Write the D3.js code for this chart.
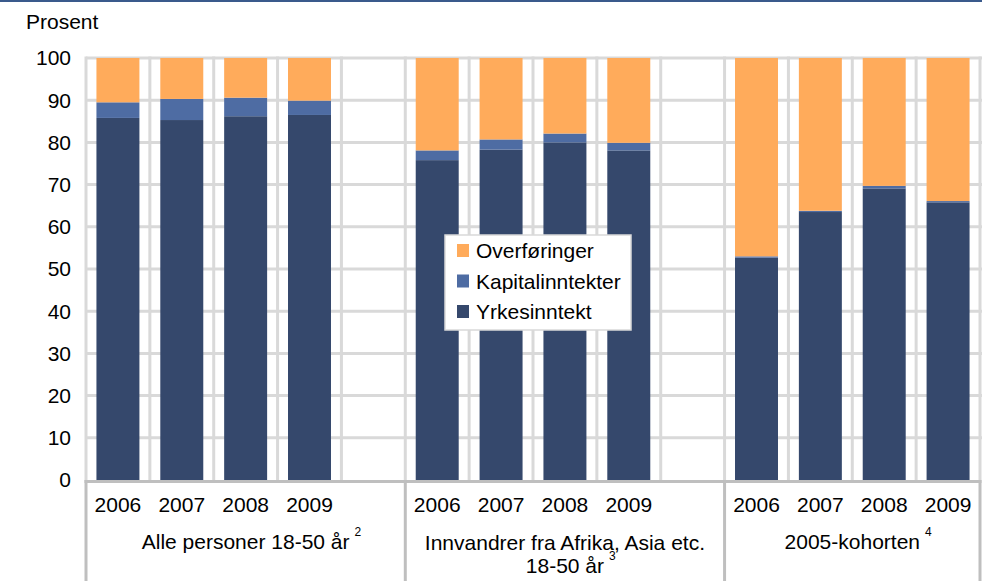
<!DOCTYPE html>
<html>
<head>
<meta charset="utf-8">
<script src="https://cdn.jsdelivr.net/npm/d3@7"></script>
<style>
  body { margin: 0; background: #fff; }
  svg { display: block; font-family: Arial, "Liberation Sans", sans-serif; }
</style>
</head>
<body>
<svg width="982" height="581"></svg>
<script>
// data
var years = ["2006", "2007", "2008", "2009"];
var groups = [
    { lines: ["Alle personer 18-50 år"], sup: "2" },
    { lines: ["Innvandrer fra Afrika, Asia etc.", "18-50 år"], sup: "3" },
    { lines: ["2005-kohorten"], sup: "4" }
];
var yrkesinntekt = [85.8, 85.3, 86.2, 86.5, 75.8, 78.3, 80.0, 78.1, 52.7, 63.5, 69.1, 65.8];
var kapitalinntekter = [3.7, 5.0, 4.4, 3.4, 2.3, 2.4, 2.1, 1.8, 0.3, 0.3, 0.6, 0.3];
var overforinger = [10.5, 9.7, 9.4, 10.1, 21.9, 19.3, 17.9, 20.1, 47.0, 36.2, 30.3, 33.9];
var yTicks = [0, 10, 20, 30, 40, 50, 60, 70, 80, 90, 100];

var series = ["Yrkesinntekt", "Kapitalinntekter", "Overføringer"];
var colors = { "Yrkesinntekt": "#35486c", "Kapitalinntekter": "#4e6ca3", "Overføringer": "#ffab5b" };

var svg = d3.select("svg");
var plotLeft = 86, plotRight = 980, plotTop = 58, plotBottom = 480;
var fs = 21;

// slots: 4 years per group, one empty slot between groups
var slots = [];
var rows = [];
groups.forEach(function (g, gi) {
    years.forEach(function (y, yi) {
        var key = gi + "-" + y;
        slots.push(key);
        var k = gi * 4 + yi;
        rows.push({ key: key, year: y, group: gi,
            "Yrkesinntekt": yrkesinntekt[k],
            "Kapitalinntekter": kapitalinntekter[k],
            "Overføringer": overforinger[k] });
    });
    if (gi < groups.length - 1) slots.push("gap-" + gi);
});

var x = d3.scaleBand().domain(slots).range([plotLeft, plotRight])
    .paddingInner(0.327).paddingOuter(0.1635);
var y = d3.scaleLinear().domain([0, 100]).range([plotBottom, plotTop]);
var step = x.step();
function slotStart(k) { return x(k) - step * x.paddingInner() / 2; }

// top rule
svg.append("rect").attr("x", 0).attr("y", 0).attr("width", 982).attr("height", 2).attr("fill", "#3a5a8c");

// gridlines
svg.append("g").selectAll("line").data(yTicks.filter(function (d) { return d > 0; }))
    .join("line")
    .attr("x1", plotLeft).attr("x2", 982)
    .attr("y1", function (d) { return y(d); }).attr("y2", function (d) { return y(d); })
    .attr("stroke", "#d9d9d9").attr("stroke-width", 3);

var vx = slots.map(slotStart).concat([plotRight]);
svg.append("g").selectAll("line").data(vx)
    .join("line")
    .attr("x1", function (d) { return d; }).attr("x2", function (d) { return d; })
    .attr("y1", y(100) - 1.5).attr("y2", y(0))
    .attr("stroke", "#d9d9d9").attr("stroke-width", 3);

// stacked bars
var stack = d3.stack().keys(series);
var layers = stack(rows);
svg.append("g").selectAll("g").data(layers)
    .join("g")
    .attr("fill", function (d) { return colors[d.key]; })
    .selectAll("rect").data(function (d) { return d; })
    .join("rect")
    .attr("x", function (d) { return x(d.data.key); })
    .attr("width", x.bandwidth())
    .attr("y", function (d) { return y(d[1]); })
    .attr("height", function (d) { return y(d[0]) - y(d[1]); });

// y labels
svg.append("g").selectAll("text").data(yTicks)
    .join("text")
    .attr("x", 71).attr("y", function (d) { return y(d); })
    .attr("dy", "0.35em").attr("text-anchor", "end")
    .attr("font-size", fs).attr("fill", "#000")
    .text(function (d) { return d; });

svg.append("text").attr("x", 26).attr("y", 29).attr("font-size", fs).text("Prosent");

// x axis line and group separators
svg.append("line").attr("x1", plotLeft - 1.5).attr("x2", plotRight + 1.5)
    .attr("y1", plotBottom + 1.5).attr("y2", plotBottom + 1.5)
    .attr("stroke", "#bfbfbf").attr("stroke-width", 3);

var groupEdges = [plotLeft, slotStart("gap-0") + step, slotStart("gap-1") + step, plotRight];
svg.append("g").selectAll("line").data(groupEdges)
    .join("line")
    .attr("x1", function (d) { return d; }).attr("x2", function (d) { return d; })
    .attr("y1", plotBottom).attr("y2", 581)
    .attr("stroke", "#bfbfbf").attr("stroke-width", 3);

// year labels
svg.append("g").selectAll("text").data(rows)
    .join("text")
    .attr("x", function (d) { return x(d.key) + x.bandwidth() / 2; })
    .attr("y", 512).attr("text-anchor", "middle")
    .attr("font-size", fs)
    .text(function (d) { return d.year; });

// group labels
groups.forEach(function (g, gi) {
    var cx = (groupEdges[gi] + groupEdges[gi + 1]) / 2;
    var lineY = g.lines.length > 1 ? 550 : 549;
    var last;
    g.lines.forEach(function (l, li) {
        last = svg.append("text")
            .attr("x", cx).attr("y", lineY + li * 23)
            .attr("text-anchor", "middle").attr("font-size", fs)
            .text(l);
    });
    var bb = last.node().getBBox();
    svg.append("text")
        .attr("x", bb.x + bb.width + 5)
        .attr("y", bb.y + 6)
        .attr("font-size", 12)
        .text(g.sup);
});

// legend
var legend = svg.append("g").attr("transform", "translate(445,235)");
legend.append("rect").attr("width", 186).attr("height", 95)
    .attr("fill", "#fff").attr("stroke", "#d9d9d9").attr("stroke-width", 1.5);
var legendItems = ["Overføringer", "Kapitalinntekter", "Yrkesinntekt"];
var li = legend.selectAll("g").data(legendItems).join("g")
    .attr("transform", function (d, i) { return "translate(12," + (9 + i * 30.5) + ")"; });
li.append("rect").attr("width", 12).attr("height", 13)
    .attr("fill", function (d) { return colors[d]; });
li.append("text").attr("x", 19).attr("y", 14).attr("font-size", fs).text(function (d) { return d; });
</script>
</body>
</html>
